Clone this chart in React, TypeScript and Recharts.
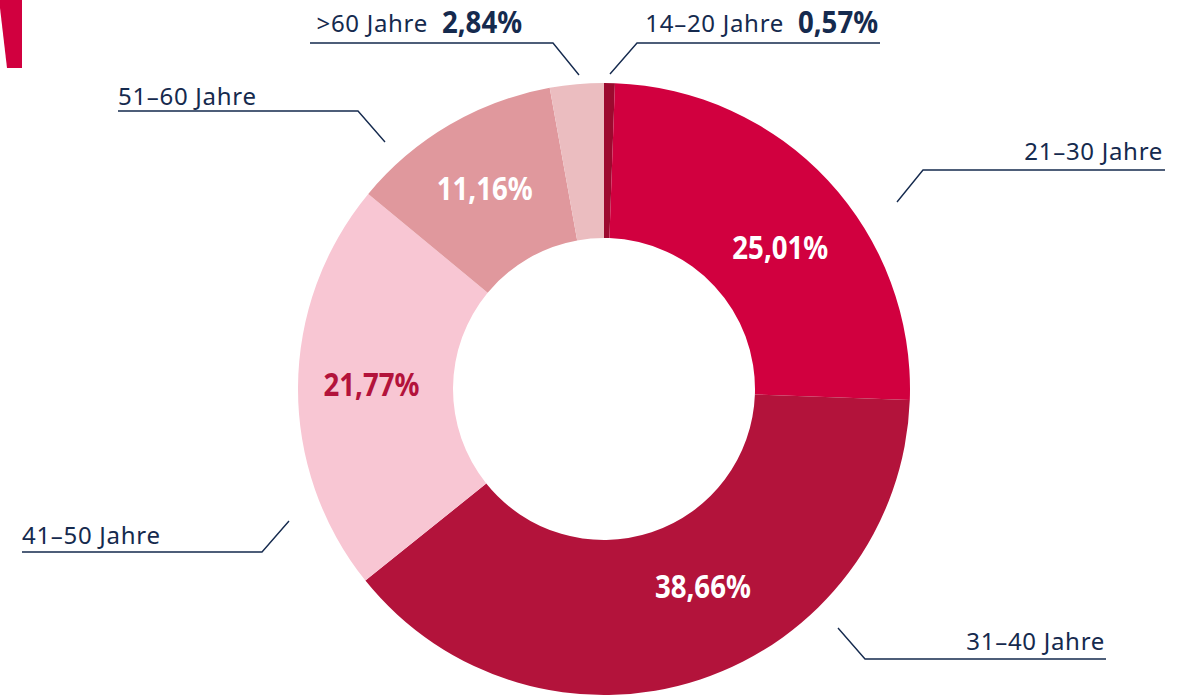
import { PieChart, Pie, Cell } from 'recharts';

// Altersverteilung
const ageGroups = ['14–20 Jahre', '21–30 Jahre', '31–40 Jahre', '41–50 Jahre', '51–60 Jahre', '>60 Jahre'];
const shares = [0.57, 25.01, 38.66, 21.77, 11.16, 2.84];
const sliceColors = ['#9c0a2f', '#d1003f', '#b3133b', '#f8c6d3', '#e0989d', '#ebbdc0'];

const data = ageGroups.map((name, i) => ({ name, value: shares[i] }));

const NAVY = '#152a4e';
const RADIAN = Math.PI / 180;
const labelFont = '"Noto Sans", "DejaVu Sans", sans-serif';
const boldFont = '"Noto Sans", "DejaVu Sans", sans-serif';

const fmt = (v: number) => v.toFixed(2).replace('.', ',') + '%';
// condensed look: squeeze the bold numbers to ~16px per glyph
const squeeze = (s: string) => s.length * 16;

// leader line layout, relative to the pie centre
const leaders = [
  { start: [6, -315], elbow: [33, -346], endX: 276, textX: 274, anchor: 'end', textY: -357, withValue: true },
  { start: [293, -187], elbow: [319, -219], endX: 561, textX: 559, anchor: 'end', textY: -229 },
  { start: [234, 239], elbow: [261, 270], endX: 502, textX: 501, anchor: 'end', textY: 261 },
  { start: [-315, 132], elbow: [-342, 163], endX: -582, textX: -582, anchor: 'start', textY: 155 },
  { start: [-219, -247], elbow: [-246, -278], endX: -486, textX: -486, anchor: 'start', textY: -284 },
  { start: [-25, -314], elbow: [-51, -346], endX: -294, textX: -82, anchor: 'end', textY: -357, withValue: true },
];

// small nudges of the inner value labels
const innerNudge = [
  [0, 0],
  [9, 13],
  [27, -20],
  [-4, -4],
  [-4, -4],
  [0, 0],
];
const innerColors = ['#fff', '#fff', '#fff', '#b3133b', '#fff', '#fff'];

const renderLabel = (props: any) => {
  const { cx, cy, midAngle, innerRadius, outerRadius, index } = props;
  const l = leaders[index];
  const [sx, sy] = l.start;
  const [ex, ey] = l.elbow;
  const r = (innerRadius + outerRadius) / 2;
  const ix = cx + r * Math.cos(-midAngle * RADIAN) + innerNudge[index][0];
  const iy = cy + r * Math.sin(-midAngle * RADIAN) + innerNudge[index][1];
  const valueText = fmt(shares[index]);
  const vw = squeeze(valueText);
  return (
    <g>
      <polyline
        points={`${cx + sx},${cy + sy} ${cx + ex},${cy + ey} ${cx + l.endX},${cy + ey}`}
        fill="none"
        stroke={NAVY}
        strokeWidth={1.4}
      />
      <text
        x={cx + l.textX - (l.withValue ? vw + 14 : 0)}
        y={cy + l.textY}
        textAnchor={l.anchor}
        fill={NAVY}
        fontFamily={labelFont}
        fontSize={24}
        letterSpacing={0.7}
      >
        {ageGroups[index]}
      </text>
      {l.withValue ? (
        <text
          x={cx + l.textX - vw}
          y={cy + l.textY + 1}
          fill={NAVY}
          fontFamily={boldFont}
          fontWeight={700}
          fontSize={30}
          textLength={vw}
          lengthAdjust="spacingAndGlyphs"
        >
          {valueText}
        </text>
      ) : (
        <text
          x={ix - vw / 2}
          y={iy}
          dominantBaseline="central"
          fill={innerColors[index]}
          fontFamily={boldFont}
          fontWeight={700}
          fontSize={33}
          textLength={vw}
          lengthAdjust="spacingAndGlyphs"
        >
          {valueText}
        </text>
      )}
    </g>
  );
};

export default function App() {
  return (
    <div style={{ position: 'fixed', left: 0, top: 0, width: 1193, height: 695, background: '#fff' }}>
      <svg width={30} height={80} style={{ position: 'absolute', left: 0, top: 0 }}>
        <polygon points="0,0 22,0 22,68 7,68 0,8" fill="#d1003f" />
      </svg>
      <PieChart width={1193} height={695} margin={{ top: 0, right: 0, bottom: 0, left: 0 }}>
        <Pie
          data={data}
          dataKey="value"
          nameKey="name"
          cx={604}
          cy={389}
          innerRadius={151}
          outerRadius={306}
          startAngle={90}
          endAngle={-270}
          stroke="none"
          label={renderLabel}
          labelLine={false}
          isAnimationActive={false}
        >
          {data.map((d, i) => (
            <Cell key={d.name} fill={sliceColors[i]} />
          ))}
        </Pie>
      </PieChart>
    </div>
  );
}
